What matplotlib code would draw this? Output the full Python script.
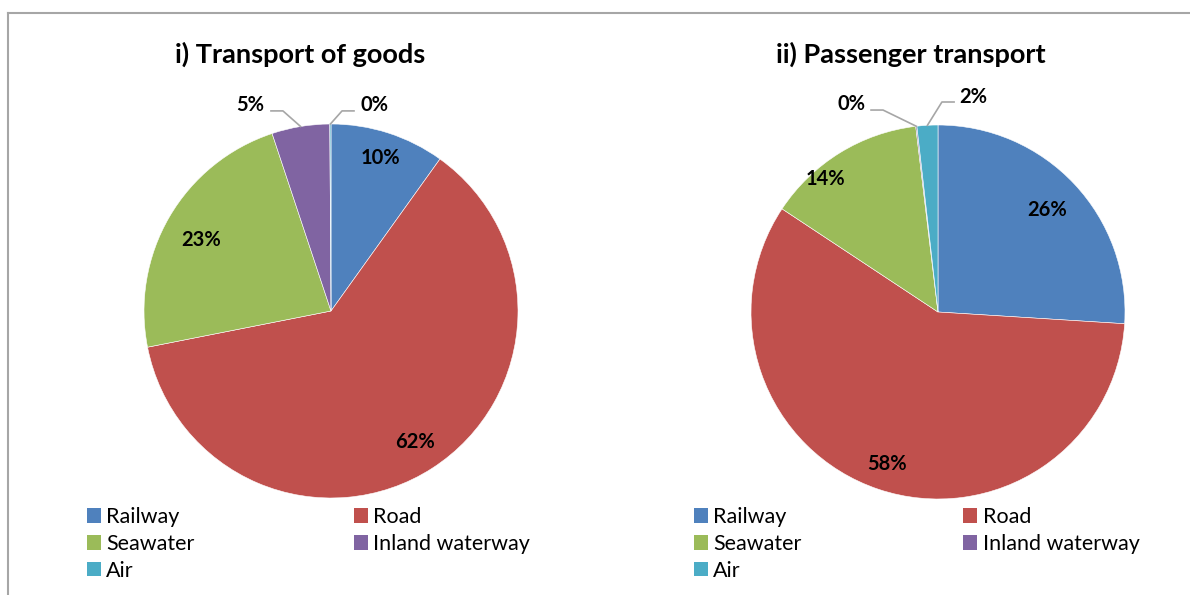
import numpy as np
import matplotlib
matplotlib.use('Agg')
import matplotlib.pyplot as plt
from matplotlib.patches import Patch
from matplotlib.lines import Line2D

plt.rcParams['font.family'] = ['Lato', 'DejaVu Sans']

modes = ['Railway', 'Road', 'Seawater', 'Inland waterway', 'Air']
colors = ['#4F81BD', '#C0504D', '#9BBB59', '#8064A2', '#4BACC6']

goods = [9.9, 62.0, 23.0, 5.0, 0.1]
passengers = [26.0, 58.3, 13.8, 0.1, 1.8]

titles = ['i) Transport of goods', 'ii) Passenger transport']

# label placement per slice: (radius, angle nudge in degrees) or None for outside labels
inside_goods = [(0.86, 0), (0.83, 0), (0.79, -1.5), None, None]
inside_pass = [(0.80, 0), (0.855, 0), (0.93, -8.6), None, None]
# outside labels: (elbow, end of leader, text position) in data units
outside_goods = {3: ((-0.257, 1.07), (-0.321, 1.07), (-0.43, 1.10)),
                 4: ((0.059, 1.07), (0.123, 1.07), (0.23, 1.10))}
outside_pass = {3: ((-0.294, 1.08), (-0.358, 1.08), (-0.465, 1.11)),
                4: ((0.021, 1.123), (0.086, 1.123), (0.187, 1.15))}

W, H = 1190, 595
fig = plt.figure(figsize=(W / 100, H / 100), dpi=100)

def draw_pie(ax, vals, inside, outside, title, tx):
    ax.pie(vals, colors=colors, startangle=90, counterclock=False,
           wedgeprops=dict(edgecolor='white', linewidth=0.4))
    ax.set_xlim(-1, 1)
    ax.set_ylim(-1, 1)
    total = sum(vals)
    cum = np.cumsum([0] + list(vals))
    for i, v in enumerate(vals):
        mid = (cum[i] + v / 2) / total * 360
        txt = '%d%%' % round(v)
        if inside[i] is not None:
            r, nud = inside[i]
            a = np.deg2rad(mid + nud)
            ax.text(r * np.sin(a), r * np.cos(a), txt, ha='center', va='center',
                    fontsize=14.5, fontweight='bold', clip_on=False)
        else:
            elbow, end, pos = outside[i]
            a = np.deg2rad(mid)
            ax.plot([np.sin(a), elbow[0], end[0]], [np.cos(a), elbow[1], end[1]],
                    color='#A6A6A6', lw=1.2, clip_on=False)
            ax.text(pos[0], pos[1], txt, ha='center', va='center',
                    fontsize=14.5, fontweight='bold', clip_on=False)
    fig.text(tx, 1 - 54 / H, title, ha='center', va='center',
             fontsize=19.5, fontweight='bold')

r = 187
for k, (cx, cy, vals, ins, outs, lx) in enumerate([
        (331, 311, goods, inside_goods, outside_goods, 87),
        (938, 312, passengers, inside_pass, outside_pass, 694)]):
    ax = fig.add_axes([(cx - r) / W, (H - cy - r) / H, 2 * r / W, 2 * r / H])
    draw_pie(ax, vals, ins, outs, titles[k], (300 if k == 0 else 911) / W)
    # legend, entries row-wise: reorder for column filling
    order = [0, 2, 4, 1, 3]
    handles = [Patch(facecolor=colors[i], edgecolor='none') for i in order]
    labels = [modes[i] for i in order]
    fig.legend(handles, labels, ncol=2, loc='upper left',
               bbox_to_anchor=(lx / W, 1 - 507 / H), frameon=False,
               fontsize=15.5, handlelength=0.65, handleheight=0.65,
               handletextpad=0.25, columnspacing=7.4 if k == 0 else 7.5,
               labelspacing=0.32, borderpad=0, borderaxespad=0)

# outer frame (left and top edges only visible)
fig.add_artist(Line2D([8 / W, 8 / W], [0, 1 - 13 / H], color='#A6A6A6', lw=1.5))
fig.add_artist(Line2D([8 / W, 1], [1 - 13 / H, 1 - 13 / H], color='#A6A6A6', lw=1.5))

fig.savefig('out.png', dpi=100)
